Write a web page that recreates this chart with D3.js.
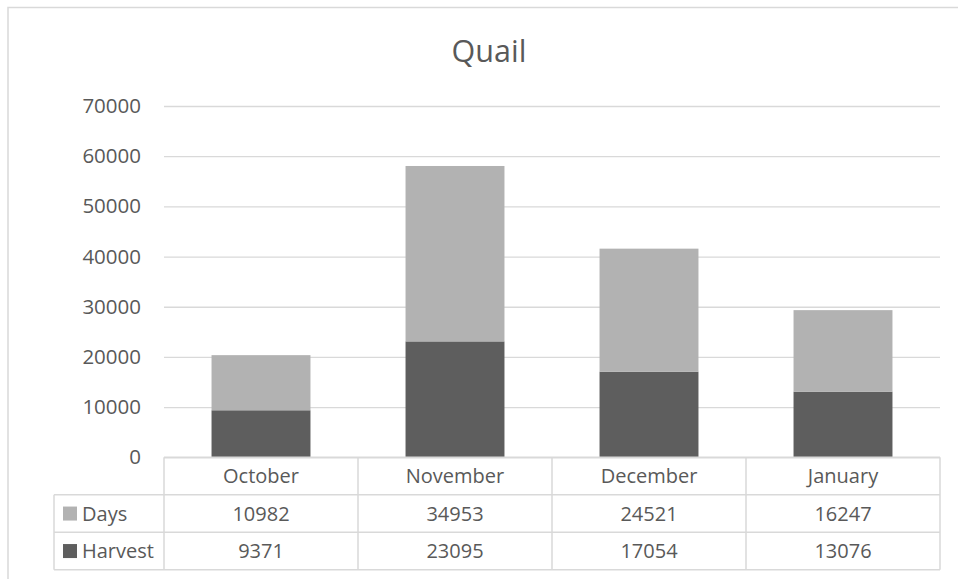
<!DOCTYPE html>
<html>
<head>
<meta charset="utf-8">
<script src="https://cdn.jsdelivr.net/npm/d3@7"></script>
<style>
  body { margin: 0; background: #fff; }
  text { font-family: "Open Sans", "Noto Sans", sans-serif; fill: #595959; }
</style>
</head>
<body>
<svg id="chart"></svg>
<script>
// data
var months = ["October", "November", "December", "January"];
var days = [10982, 34953, 24521, 16247];
var harvest = [9371, 23095, 17054, 13076];
var yTicks = [0, 10000, 20000, 30000, 40000, 50000, 60000, 70000];
var seriesNames = ["Harvest", "Days"];   // stacking order, bottom first
var tableOrder = ["Days", "Harvest"];   // data table row order

var colors = { Days: "#b2b2b2", Harvest: "#5e5e5e" };
var gridColor = "#d9d9d9";

var dimensions = {
    width: 958,
    height: 579,
    plot: { left: 164, right: 940, top: 106, bottom: 457.3 },
    tableLeft: 54,
    rowHeight: 37.5
};

var svg = d3.select("#chart")
    .attr("width", dimensions.width)
    .attr("height", dimensions.height);

// chart area border (runs off the right and bottom of the picture)
svg.append("rect")
    .attr("x", 8)
    .attr("y", 7.5)
    .attr("width", 980)
    .attr("height", 600)
    .attr("fill", "none")
    .attr("stroke", gridColor)
    .attr("stroke-width", 1.5);

// title
svg.append("text")
    .attr("x", 489)
    .attr("y", 62)
    .attr("text-anchor", "middle")
    .style("font-size", "30.5px")
    .text("Quail");

// scales
var x = d3.scaleBand()
    .domain(months)
    .range([dimensions.plot.left, dimensions.plot.right])
    .paddingInner(0.49)
    .paddingOuter(0.245);

var y = d3.scaleLinear()
    .domain([0, 70000])
    .range([dimensions.plot.bottom, dimensions.plot.top]);

// gridlines
svg.append("g")
    .attr("transform", `translate(${dimensions.plot.left},0)`)
    .call(d3.axisLeft(y).tickValues(yTicks).tickSize(-(dimensions.plot.right - dimensions.plot.left)).tickFormat(""))
    .call(g => g.select(".domain").remove())
    .call(g => g.selectAll("line").attr("stroke", gridColor).attr("stroke-width", 1.3));

// y axis labels
svg.append("g")
    .attr("transform", `translate(${dimensions.plot.left},0)`)
    .call(d3.axisLeft(y).tickValues(yTicks).tickSize(0).tickPadding(23).tickFormat(d3.format("d")))
    .call(g => g.select(".domain").remove())
    .call(g => g.selectAll("text")
        .attr("fill", "#595959")
        .style("font-family", "'Open Sans', 'Noto Sans', sans-serif")
        .style("font-size", "20.5px"));

// stacked bars
var rows = months.map((m, i) => ({ month: m, Days: days[i], Harvest: harvest[i] }));
var stacked = d3.stack().keys(seriesNames)(rows);

svg.append("g")
    .selectAll("g")
    .data(stacked)
    .enter()
    .append("g")
    .attr("fill", d => colors[d.key])
    .selectAll("rect")
    .data(d => d)
    .enter()
    .append("rect")
    .attr("x", d => x(d.data.month))
    .attr("y", d => y(d[1]))
    .attr("width", x.bandwidth())
    .attr("height", d => y(d[0]) - y(d[1]));

// data table
var table = svg.append("g");
var step = x.step();
var colEdges = months.map(m => x(m) - x.step() * x.paddingInner() / 2);
colEdges.push(dimensions.plot.right);
var top0 = dimensions.plot.bottom;
var rowTops = [top0, top0 + dimensions.rowHeight, top0 + 2 * dimensions.rowHeight, top0 + 3 * dimensions.rowHeight];

var lineStyle = sel => sel.attr("stroke", gridColor).attr("stroke-width", 1.5);

// horizontal lines
table.append("line").attr("x1", dimensions.plot.left).attr("x2", dimensions.plot.right)
    .attr("y1", rowTops[0]).attr("y2", rowTops[0]).call(lineStyle);
rowTops.slice(1).forEach(t => {
    table.append("line").attr("x1", dimensions.tableLeft).attr("x2", dimensions.plot.right)
        .attr("y1", t).attr("y2", t).call(lineStyle);
});
// vertical lines
colEdges.forEach(cx => {
    table.append("line").attr("x1", cx).attr("x2", cx)
        .attr("y1", rowTops[0]).attr("y2", rowTops[3]).call(lineStyle);
});
table.append("line").attr("x1", dimensions.tableLeft).attr("x2", dimensions.tableLeft)
    .attr("y1", rowTops[1]).attr("y2", rowTops[3]).call(lineStyle);

// header: month names
months.forEach(m => {
    table.append("text")
        .attr("x", x(m) + x.bandwidth() / 2)
        .attr("y", (rowTops[0] + rowTops[1]) / 2)
        .attr("dy", "0.35em")
        .attr("text-anchor", "middle")
        .style("font-size", "20px")
        .text(m);
});

// series rows
var values = { Days: days, Harvest: harvest };
tableOrder.forEach((name, r) => {
    var cy = (rowTops[r + 1] + rowTops[r + 2]) / 2;
    table.append("rect")
        .attr("x", 63)
        .attr("y", cy - 7)
        .attr("width", 14)
        .attr("height", 14)
        .attr("fill", colors[name]);
    table.append("text")
        .attr("x", 82)
        .attr("y", cy)
        .attr("dy", "0.35em")
        .style("font-size", "20px")
        .text(name);
    months.forEach((m, i) => {
        table.append("text")
            .attr("x", x(m) + x.bandwidth() / 2)
            .attr("y", cy)
            .attr("dy", "0.35em")
            .attr("text-anchor", "middle")
            .style("font-size", "20px")
            .text(values[name][i]);
    });
});
</script>
</body>
</html>
